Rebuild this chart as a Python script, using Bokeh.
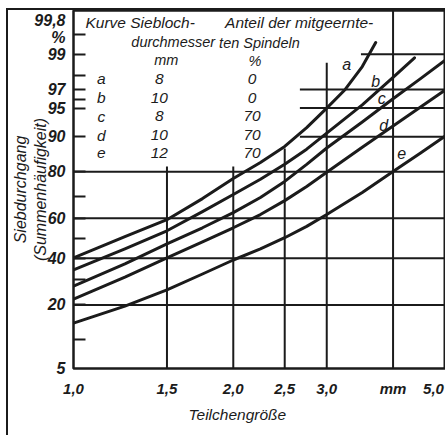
import math
from statistics import NormalDist
from bokeh.plotting import figure
from bokeh.models import Range1d, FixedTicker, Label, Title
from bokeh.embed import file_html
from bokeh.resources import INLINE

# ---------------- data ----------------
x_ticks = [1.0, 1.5, 2.0, 2.5, 3.0, 4.0]
x_tick_labels = ["1,0", "1,5", "2,0", "2,5", "3,0", "mm"]
x_last_tick_label = "5,0"

y_major = [5, 20, 40, 60, 80, 90, 95, 97, 99]
y_major_labels = ["5", "20", "40", "60", "80", "90", "95", "97", "99"]
y_minor = [10, 20, 30, 40, 50, 60, 70, 80, 90, 95, 96, 97, 98, 99, 99.5]
y_top = 99.8
y_top_labels = ["99,8", "%"]

curve_a_x = [1.0, 1.25, 1.5, 1.75, 2.0, 2.25, 2.5, 2.75, 3.0, 3.25, 3.5, 3.71]
curve_a_p = [40.2, 50.8, 59.3, 69.2, 77.5, 83.1, 87.7, 91.9, 95.0, 97.0, 98.5, 99.33]
curve_b_x = [1.0, 1.25, 1.5, 1.75, 2.0, 2.25, 2.5, 2.75, 3.0, 3.5, 4.0, 4.39]
curve_b_p = [34.5, 44.7, 53.8, 63.2, 71.0, 77.2, 82.5, 87.0, 90.8, 95.4, 97.9, 98.87]
curve_c_x = [1.0, 1.25, 1.5, 1.75, 2.0, 2.25, 2.5, 2.75, 3.0, 3.5, 4.0, 4.5, 5.0, 5.07]
curve_c_p = [27.3, 37.3, 47.2, 55.3, 62.7, 69.7, 76.4, 82.5, 87.3, 92.9, 96.1, 97.8, 98.76, 98.84]
curve_d_x = [1.0, 1.25, 1.5, 1.75, 2.0, 2.25, 2.5, 2.75, 3.0, 3.5, 4.0, 4.5, 5.0, 5.07]
curve_d_p = [22.1, 31.2, 40.2, 48.2, 55.3, 61.8, 68.3, 74.4, 79.8, 87.5, 92.2, 95.1, 96.9, 97.0]
curve_e_x = [1.0, 1.25, 1.5, 1.75, 2.0, 2.25, 2.5, 2.75, 3.0, 3.5, 4.0, 4.5, 5.0, 5.07]
curve_e_p = [14.2, 19.6, 25.7, 32.6, 39.2, 44.7, 50.3, 56.0, 61.8, 71.9, 80.1, 85.9, 90.1, 90.4]
curve_names = ["a", "b", "c", "d", "e"]

legend_kurve = ["a", "b", "c", "d", "e"]
legend_sieb_mm = ["8", "10", "8", "10", "12"]
legend_anteil = ["0", "0", "70", "70", "70"]

# gridlines: vertical (x, top percent), horizontal (percent, start x)
grid_v = [(1.5, 81.8), (2.0, 81.8), (2.5, 87.2), (3.0, 98.67), (4.0, 99.8), (5.0, 99.8)]
grid_h = [(20, 1.0), (40, 1.0), (60, 1.0), (80, 1.0), (90, 2.67), (95, 2.67), (97, 2.67), (99, 3.48)]

# ---------------- helpers ----------------
nd = NormalDist()


def z(p):
    return nd.inv_cdf(p / 100.0)


INK = "#1b1b1b"
FONT = "Liberation Sans"
OX, OY = 8, 10                      # page position of the figure content
W, H = 437, 425
LEFT, RIGHT, TOP, BOTTOM = 62, 0, 0, 69
FW = W - LEFT - RIGHT
FH = H - TOP - BOTTOM
PX_PER_DECADE = 532.2
X0 = 1.0
X1 = 10 ** (FW / PX_PER_DECADE)
Y0, Y1 = z(5), z(y_top)


def fx(px):
    # page pixel -> data x (log axis)
    return 10 ** ((px - OX - LEFT) / PX_PER_DECADE)


def fy(py):
    return Y0 + (OY + TOP + FH - py) / FH * (Y1 - Y0)


p = figure(width=W, height=H, x_axis_type="log",
           x_range=Range1d(X0, X1), y_range=Range1d(Y0, Y1),
           output_backend="svg", toolbar_location=None, title=None,
           min_border_left=LEFT, min_border_right=RIGHT,
           min_border_top=TOP, min_border_bottom=BOTTOM)
p.styles = {"box-sizing": "content-box", "margin-left": "6px", "margin-top": "8px",
            "border-left": "2px solid #1b1b1b", "border-top": "2px solid #1b1b1b"}
p.xgrid.visible = False
p.ygrid.visible = False
p.outline_line_color = INK
p.outline_line_width = 2.5
p.background_fill_color = "white"
p.border_fill_color = "white"

# x axis: label positions as major ticks (tick marks hidden)
xa = p.xaxis[0]
x_label_pos = x_ticks + [fx(431)]
xa.ticker = FixedTicker(ticks=x_label_pos)
xa.major_label_overrides = {t: s for t, s in zip(x_label_pos, x_tick_labels + [x_last_tick_label])}
xa.major_tick_line_color = None
xa.minor_tick_line_color = None
xa.axis_line_color = None
xa.major_label_standoff = 5
xa.major_label_text_font = FONT
xa.major_label_text_font_style = "bold italic"
xa.major_label_text_font_size = "15px"
xa.major_label_text_color = INK

# y axis (normal probability scale): labels on major ticks, marks as minor ticks
ya = p.yaxis[0]
y_label_pos = [z(v) for v in y_major] + [fy(20), fy(37)]
ya.ticker = FixedTicker(ticks=y_label_pos, minor_ticks=[z(v) for v in y_minor])
ya.major_label_overrides = {t: s for t, s in zip(y_label_pos, y_major_labels + y_top_labels)}
ya.major_tick_line_color = None
ya.minor_tick_in = 12
ya.minor_tick_out = 0
ya.minor_tick_line_width = 2
ya.minor_tick_line_color = INK
ya.axis_line_color = None
ya.major_label_standoff = 2
ya.major_label_text_font = FONT
ya.major_label_text_font_style = "bold italic"
ya.major_label_text_font_size = "16px"
ya.major_label_text_color = INK
ya.axis_label = "Siebdurchgang\n(Summenhäufigkeit)"
ya.axis_label_standoff = -18
ya.axis_label_text_font = FONT
ya.axis_label_text_font_style = "italic"
ya.axis_label_text_font_size = "16px"
ya.axis_label_text_color = INK

# x axis title as a left-aligned title below the axis
p.add_layout(Title(text="Teilchengröße", align="left", offset=115, standoff=8,
                   text_font=FONT, text_font_style="italic", text_font_size="15.5px",
                   text_color=INK), "below")

# gridlines
p.segment(x0=[g[0] for g in grid_v], y0=[Y0] * len(grid_v),
          x1=[g[0] for g in grid_v], y1=[z(g[1]) for g in grid_v],
          line_color=INK, line_width=2)
p.segment(x0=[g[1] for g in grid_h], y0=[z(g[0]) for g in grid_h],
          x1=[X1] * len(grid_h), y1=[z(g[0]) for g in grid_h],
          line_color=INK, line_width=2)

# curves
for xs, ps in [(curve_a_x, curve_a_p), (curve_b_x, curve_b_p), (curve_c_x, curve_c_p),
               (curve_d_x, curve_d_p), (curve_e_x, curve_e_p)]:
    p.line(xs, [z(v) for v in ps], line_color=INK, line_width=3, line_join="round", line_cap="round")


def add_text(txt, px, py, size="15.5px", style="italic", align="left", angle=0.0):
    p.add_layout(Label(x=fx(px), y=fy(py), text=txt, text_font=FONT, text_font_size=size,
                       text_font_style=style, text_align=align, text_baseline="middle",
                       text_color=INK, angle=angle))


# curve labels
for name, (px, py) in zip(curve_names, [(344, 64), (373, 81), (379, 98), (381, 124), (399, 152)]):
    add_text(name, px, py, size="16px", align="center")

# in-chart legend table
add_text("Kurve Siebloch-", 82, 22)
add_text("durchmesser", 128, 41, size="14.5px")
add_text("mm", 163, 59, size="14.5px", align="center")
add_text("Anteil der mitgeernte-", 222, 22)
add_text("ten Spindeln", 216, 42, size="14.5px")
add_text("%", 252, 60, size="14.5px", align="center")
row_y = [78, 97, 115, 134, 152]
for k, s, a, ry in zip(legend_kurve, legend_sieb_mm, legend_anteil, row_y):
    add_text(k, 98, ry, align="center")
    add_text(s, 156, ry, align="center")
    add_text(a, 249, ry, align="center")

open("out.html", "w").write(file_html(p, INLINE))
